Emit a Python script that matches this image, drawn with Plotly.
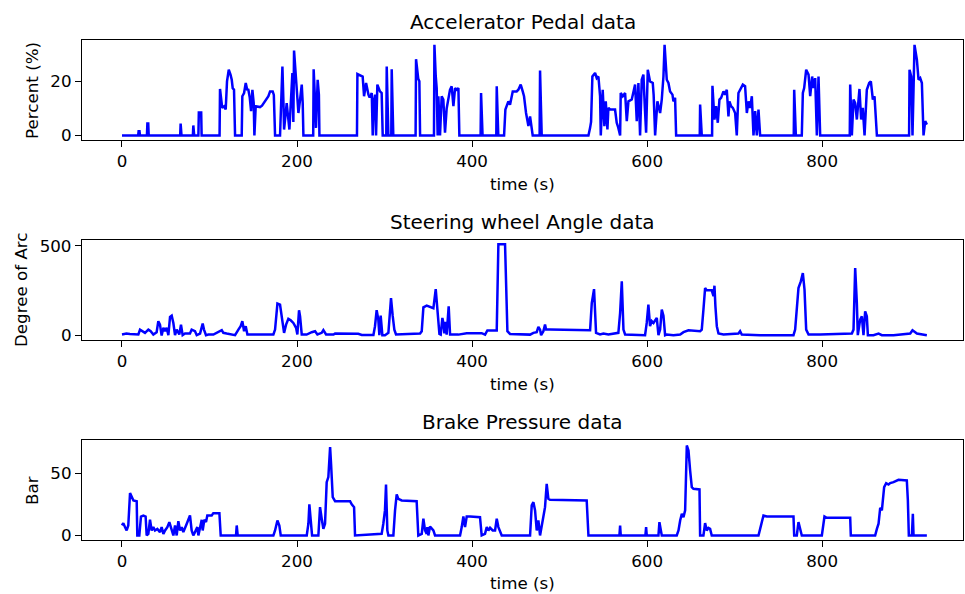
import plotly.graph_objects as go

# ---------------- data ----------------
accel_t = [0, 18.5, 19, 20, 20.6, 28.5, 29, 30, 30.5, 66.5, 67, 68, 81, 81.5, 82.5, 87.3, 87.8, 90.5, 91,
           111.5, 112, 113.5, 114.5, 117, 118.5, 120, 122, 124, 125.4, 126.5, 128, 129.2, 136.8, 137.5, 139.5,
           141.4, 143, 144.4, 146, 147.5, 149, 150.5, 151.3, 152.8, 157.7, 160, 163.5, 167.3, 169.2, 172.2,
           173.5, 174.9, 180.6, 183.3, 184.5, 185.2, 188.2, 191.3, 194.7, 195.8, 196.6, 198, 199.7, 201.6,
           203.5, 205.4, 206.5, 207.3, 218.5, 219, 221, 221.7, 223.6, 225, 225.6, 268.5, 269, 275, 276.6,
           278.9, 281.6, 283, 285.4, 286.5, 287.5, 289.2, 290.3, 291.8, 294.8, 296.7, 297.9, 302, 302.5,
           304.4, 307.7, 308.2, 310, 335.5, 336, 338.5, 339.8, 340.6, 356.5, 357, 358.5, 359.6, 360.7, 361.5,
           363.4, 365.3, 367.2, 369.1, 371, 372.5, 374.8, 376.7, 378.7, 380.6, 382.5, 384.4, 385.5, 409.8,
           410.3, 412, 427.7, 428.2, 430, 436.6, 438.1, 441.5, 443.4, 446.5, 451, 452.9, 455.6, 457.9, 459.4,
           461.7, 464.4, 466.3, 468.2, 469.3, 477.2, 477.7, 479.6, 533, 534.9, 536, 537.5, 540.6, 542.5,
           544.4, 546.3, 547.1, 549.3, 551.2, 552.8, 554.7, 555.8, 557.7, 563.4, 565.3, 567, 569.2, 569.9,
           572.2, 574.9, 576.8, 578.7, 582.5, 586.3, 588.2, 590.1, 592, 593.9, 595.8, 597.5, 598.9, 600.8,
           603.4, 606.5, 607.5, 609.2, 611.8, 614.9, 616.8, 618.7, 620, 622.5, 624.4, 626.3, 629, 630.1,
           632, 633.2, 660.2, 660.6, 662.5, 674.3, 674.7, 677, 678.9, 680.8, 682.7, 684.6, 687.3, 689.2,
           691.1, 693, 694.1, 696, 698, 700.6, 702.5, 704.4, 706.3, 709.4, 712, 714, 715.9, 717.8, 719.7,
           721.6, 723.5, 725.4, 727.3, 729.2, 767.6, 768.1, 770, 776.8, 778, 779.5, 781.8, 784.5, 786.4,
           788.6, 790.2, 792.1, 794, 795.9, 797.8, 831.6, 832.1, 834, 835.9, 837.8, 839.7, 842.7, 844.6,
           846.5, 848.5, 851.1, 853.8, 855.7, 858, 859.9, 862.6, 899.4, 899.9, 901.8, 903.3, 905.6, 908.3,
           910.2, 912.1, 914, 915.9, 917.8, 919.7]
accel_v = [0, 0, 1.6, 1.6, 0, 0, 4.4, 4.4, 0, 0, 4.4, 0, 0, 3.7, 0, 0, 8.5, 8.5, 0,
           0, 17.2, 12, 10.2, 10.8, 9.6, 20, 24.3, 22.5, 20.6, 17.5, 16.9, 0, 0, 14.5, 15.7,
           19.4, 17, 16.9, 14, 9.0, 16.9, 12, 0, 10.8, 10.5, 11, 12.6, 14.5, 16.3, 16.3,
           15, 0, 0, 25.5, 12, 2.2, 12, 2.2, 23.1, 5, 31.4, 25, 16.9, 8.3,
           13.3, 18.8, 12, 0, 0, 24.5, 10, 2.8, 20.6, 15, 0, 0, 22.7, 21.8, 14.5,
           19.4, 15.1, 14, 15.7, 0, 12, 15.1, 0, 18.8, 16.3, 15.7, 0, 0, 25.5,
           0, 0, 24.5, 0, 0, 28.2, 21, 20, 0, 0, 33.5, 22, 17.5, 0, 14.5,
           0, 14.5, 13.3, 1, 10, 13, 16.9, 18.2, 10.8, 17.5, 16.9, 17.5, 0, 0,
           15.7, 0, 0, 18.2, 0, 0, 9.6, 12.6, 11.4, 16.3, 16.3, 16.9, 18.8, 16.3, 14.5,
           8.3, 3.5, 7, 2.8, 0, 0, 24, 0, 0, 2.8, 5, 21.8, 23.1, 21.2,
           21.8, 14.5, 0, 16.9, 3.4, 12.6, 2.2, 10.2, 9.6, 9.6, 4.7, 3, 0, 15.7,
           14.5, 15.7, 5.3, 12.6, 13.3, 18.8, 5.3, 19.4, 0, 20.6, 22.5, 10, 1, 24.3,
           20, 19.4, 15, 0, 12.6, 8.3, 13.3, 21.8, 33.5, 20.6, 19.4, 16.3, 15.1, 12.6,
           13.9, 0, 0, 11.4, 0, 0, 18.4, 5.9, 10.8, 4.7, 13.3, 13.9, 16.3, 15.1,
           16.9, 7, 12.6, 10.8, 10.2, 8.3, 0, 15.7, 16.9, 18.8, 18.2, 8.3, 12.6, 10.2, 14.5,
           0, 9, 0, 9.6, 0, 0, 16.9, 0, 0, 15.7, 17.5, 24.3, 22.5, 14.5,
           21.8, 17.5, 21.2, 0, 21.8, 0, 0, 18.8, 0, 13.3, 12, 5.9, 17.2, 5.9,
           10.2, 0, 16.9, 19.4, 20, 13.3, 14.5, 0, 0, 24.3, 21.8, 0, 33.5, 28,
           20.6, 21.2, 19.4, 0, 5.3, 4]

steer_t = [0, 5, 9, 18.7, 20.6, 23.6, 26.3, 30.1, 32.8, 35.8, 39.6, 41.5, 43.4, 45.3, 47.3, 49.2, 51, 53,
           54.9, 56.8, 58.7, 60.6, 62.5, 65.5, 67.4, 69.3, 72, 77.7, 79.6, 83.4, 85.4, 89.2, 92.2, 93.7, 96,
           98.7, 104.4, 114, 115.8, 119.6, 123.5, 129.2, 133, 135.6, 137.5, 139.5, 141.4, 143.3, 146.3, 173,
           174.9, 177.6, 180.6, 182.5, 185.2, 187.5, 190.1, 192.8, 195.8, 198.9, 200.4, 202.3, 203.5, 205.4,
           211, 216.8, 220.6, 223.3, 228.2, 230.1, 233.2, 241.6, 243.5, 270, 274, 287.3, 289.1, 291, 292.9,
           294.1, 295.6, 297.5, 300.5, 304.4, 306.3, 307.4, 309.3, 311.2, 313.1, 340.6, 342.5, 344.4, 348.2,
           353.9, 355.8, 358.5, 360.4, 362.7, 364.2, 366.1, 367.2, 368.4, 369.9, 371, 373.3, 374.9, 378.7,
           384.4, 393.9, 411, 414.9, 417.5, 428.2, 430.1, 437.7, 440.4, 443.4, 466.3, 470.1, 473.9, 475.8,
           477.7, 478.9, 481.5, 483.4, 484.6, 489.1, 533, 534.9, 536.8, 539.4, 541.7, 546.3, 550.1, 555.8,
           567.2, 569.2, 571.1, 573, 574.9, 588.2, 597.7, 599.6, 601.5, 603.4, 605.3, 607.3, 609.2, 611.1,
           613, 614.9, 616.8, 618.7, 620.6, 622.5, 630.1, 637.8, 641.6, 647.3, 660.6, 662.5, 664.4, 666.3,
           668.2, 673.9, 675.9, 677, 678.1, 679.7, 681.6, 687.3, 704.4, 706.3, 708.2, 729.2, 767.3, 769.2,
           773, 775.7, 778, 779.9, 781.8, 784.5, 797.8, 834, 835.9, 837.8, 839.7, 840.8, 843.5, 845.4, 847.3,
           849.2, 851.1, 852.3, 858.7, 864.5, 868.3, 881.6, 900.7, 903.3, 906.4, 908.3, 919.7]
steer_v = [5.6, 11, 8, 5.6, 33, 24, 15, 33, 24, 5.6, 18.5, 80, 61, 0, 43, 24, 43, 2,
           104, 111, 70, 2, 33, 5.6, 61, 2, 11, 11, 33, 24, 2, 11, 67, 33, 2,
           5.6, 5.6, 30, 15, 11, 5.6, 2, 33, 52, 80, 24, 52, 5.6, 5.6, 5.6,
           33, 178, 172, 107, 15, 61, 93, 85, 70, 43, 5.6, 141, 107, 5.6,
           5.6, 18.5, 24, 5.6, 15, 30, 5.6, 5.6, 11, 10, 3, 3, 52, 141, 89,
           2, 111, 2, 2, 15, 126, 209, 111, 33, 5.6, 11, 24, 157, 167,
           154, 152, 259, 135, 9, 5, 98, 70, 12, 76, 5, 163, 5, 5,
           5, 13, 13, 5, 28, 28, 509, 509, 24, 9, 5, 15, 18.5, 48,
           33, 2, 24, 61, 33, 33, 33, 30, 181, 259, 15, 5.6, 11, 5.6,
           15, 126, 302, 33, 5.6, 2, 2, 70, 172, 52, 80, 70, 85, 98,
           2, 33, 144, 111, 2, 5.6, 2, 5.6, 18.5, 29.6, 24, 33, 144, 265,
           252, 252, 219, 278, 163, 52, 11, 5.6, 11, 24, 5.6, 2, 2, 33,
           265, 302, 348, 256, 33, 5.6, 5.6, 11, 33, 376, 181, 2, 89, 107, 2,
           135, 107, 2, 2, 11, 2, 2, 11, 29.6, 18.5, 11, 2]

brake_t = [0, 1.5, 3.4, 5.3, 7.2, 9.2, 11, 13, 16.8, 17.5, 19.8, 21.7, 24.4, 27, 28.2, 30.1, 32, 33.9,
           35.8, 37.7, 40.4, 43.4, 45.3, 47.3, 49.2, 51.8, 54.1, 56.8, 58.7, 60.6, 62.5, 64.4, 66.3, 68.2,
           70.1, 73.2, 75.8, 77.7, 79.6, 81.5, 83.4, 86.1, 87.3, 89.2, 91.1, 92.2, 94.1, 96, 97.5, 102.5,
           104.4, 111.3, 112.8, 130.3, 131.1, 132.2, 173, 174.9, 177.6, 179.8, 181.4, 211.1, 213, 214.1,
           215.7, 217.2, 224.4, 226.3, 228.2, 230.1, 232, 233.9, 235.8, 237.8, 238.9, 240.8, 243.5, 260.6,
           262.5, 265.2, 266.3, 296.7, 298.6, 300.5, 301.7, 303.2, 304.4, 310.1, 312, 313.9, 315.8, 319.6,
           336.7, 338.6, 342.5, 344.4, 346.3, 348.2, 348.9, 350.1, 352, 353.9, 355.8, 357.7, 386.3, 388.2,
           390.1, 392, 393.9, 397.7, 409.1, 411, 414.8, 416.8, 418.7, 420.6, 423.6, 426.3, 428.2, 430.1,
           432, 433.9, 466.3, 468.2, 470.1, 472, 473.9, 475.8, 477.7, 481.5, 483.4, 485.3, 487.2, 489.1,
           504.4, 519.6, 531, 533, 568.4, 569.2, 569.9, 598.1, 598.9, 599.6, 613, 614.1, 615.6, 616.8,
           633.9, 635.9, 637.8, 639.7, 641.6, 643.5, 645.4, 647.3, 649.2, 651.1, 653, 659.9, 660.6, 664.4,
           666.3, 668.2, 670.1, 672, 673.9, 727.3, 729.2, 731.1, 733, 736.8, 767.3, 768.1, 771.1, 773,
           774.9, 776.8, 799.7, 801.6, 802.7, 805.4, 832.1, 832.8, 860.6, 862.6, 864.5, 866.4, 868.3,
           870.9, 873.2, 875.9, 877.8, 881.6, 885.4, 887.3, 896.8, 898, 899.1, 902.6, 903.7, 904.5, 919.7]
brake_v = [8, 9.9, 6.7, 4, 8, 34, 31.3, 28.1, 27.5, 0, 0, 15.2, 16, 15.2, 0, 1.3, 12.6, 4,
           6.7, 4, 5.3, 2.7, 6.7, 1.3, 4, 6.7, 10.7, 4, 0, 8, 0, 11.5, 4, 6.7,
           2.7, 8, 13.4, 16, 4, 0, 2.7, 6.7, 0, 6.7, 12.6, 4, 12.6, 10.7, 16, 16,
           17.9, 17.9, 0, 0, 8, 0, 0, 4, 12, 8, 0, 0, 9.4, 24.9,
           13.4, 0, 0, 22.7, 13.4, 5.3, 9.4, 42.8, 46.8, 70.9, 57.5, 30.7, 27.5, 27.5,
           24.9, 22.7, 0, 1.3, 9.4, 20.1, 40.9, 4, 0, 0, 20.1, 32.9, 29.4, 28.1,
           27.5, 0, 1.3, 13.4, 4, 1.3, 6.7, 0, 7.2, 5.3, 4, 0, 0, 6.7,
           15.2, 6.7, 15.2, 15.2, 14.7, 0, 1.3, 6.7, 4, 6.1, 4, 4, 13.4, 6.7,
           4, 0, 0, 24.1, 26.7, 20.1, 4, 12, 0, 14.7, 22.7, 41.4, 29.4, 28.6,
           28.6, 28.1, 28.1, 0, 0, 8, 0, 0, 6.7, 0, 0, 10.7, 2.7, 0,
           0, 4, 12, 17.4, 14.7, 20.1, 72.2, 68.2, 52.1, 38.8, 37.4, 36.9, 0, 0,
           9.9, 4, 6.1, 5.3, 0, 0, 5.3, 12, 16, 15.2, 15.2, 0, 0, 10.7,
           5.3, 0, 0, 9.4, 15.2, 14.2, 14.2, 0, 0, 5.3, 9.4, 22.2, 20.1,
           38.8, 42, 40.9, 42, 42.8, 44.1, 44.7, 44.1, 28.1, 0, 0, 17.4, 0, 0]

titles = ["Accelerator Pedal data", "Steering wheel Angle data", "Brake Pressure data"]
ylabels = ["Percent (%)", "Degree of Arc", "Bar"]
xlabel = "time (s)"
x_ticks = [0, 200, 400, 600, 800]
y_ticks = [[0, 20], [0, 500], [0, 50]]

# ---------------- figure ----------------
FONT = "DejaVu Sans"
LINE = "#0000ff"
fig = go.Figure()
series = [(accel_t, accel_v), (steer_t, steer_v), (brake_t, brake_v)]
for i, (t, v) in enumerate(series):
    sfx = "" if i == 0 else str(i + 1)
    fig.add_trace(go.Scatter(x=t, y=v, mode="lines", line=dict(color=LINE, width=2.5),
                             xaxis="x" + sfx, yaxis="y" + sfx, showlegend=False, hoverinfo="skip"))

domains = [[0.8, 1.0], [0.4, 0.6], [0.0, 0.2]]
yranges = [[-1.68, 35.3], [-25, 533], [-3.65, 76.6]]
axis_common = dict(showline=True, mirror=True, linecolor="black", linewidth=1.3,
                   ticks="outside", ticklen=6, tickwidth=1.3, tickcolor="black",
                   showgrid=False, zeroline=False,
                   tickfont=dict(family=FONT, size=16.7, color="black"))
layout = dict(width=965, height=594, paper_bgcolor="white", plot_bgcolor="white",
              margin=dict(l=82, r=2, t=40, b=54), font=dict(family=FONT, color="black"))
for i in range(3):
    sfx = "" if i == 0 else str(i + 1)
    layout["xaxis" + sfx] = dict(axis_common, domain=[0, 1], range=[-45.7, 961], tickvals=x_ticks,
                                 anchor="y" + sfx)
    layout["yaxis" + sfx] = dict(axis_common, domain=domains[i], range=yranges[i], tickvals=y_ticks[i],
                                 anchor="x" + sfx)
fig.update_layout(**layout)

ann = []
title_y = [1.036, 0.636, 0.236]
xlab_y = [0.712, 0.312, -0.086]
ylab_x = [-0.0568, -0.0692, -0.0568]
for i in range(3):
    ann.append(dict(text=titles[i], x=0.5, y=title_y[i], xref="paper", yref="paper",
                    xanchor="center", yanchor="middle", showarrow=False,
                    font=dict(family=FONT, size=20, color="black")))
    ann.append(dict(text=xlabel, x=0.5, y=xlab_y[i], xref="paper", yref="paper",
                    xanchor="center", yanchor="middle", showarrow=False,
                    font=dict(family=FONT, size=16.7, color="black")))
    ann.append(dict(text=ylabels[i], x=ylab_x[i], y=sum(domains[i]) / 2, xref="paper", yref="paper",
                    xanchor="center", yanchor="middle", textangle=-90, showarrow=False,
                    font=dict(family=FONT, size=16.7, color="black")))
fig.update_layout(annotations=ann)
fig.write_html("out.html")
